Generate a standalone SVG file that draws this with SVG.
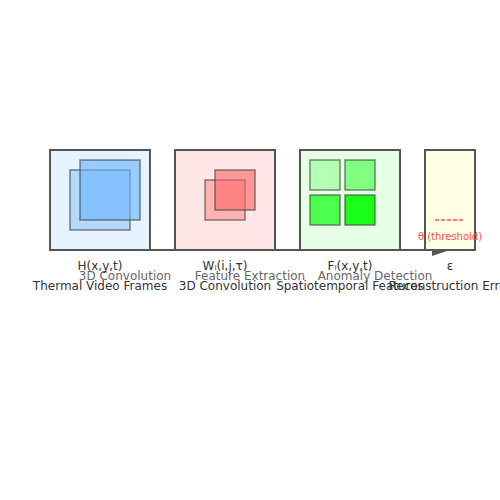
<svg xmlns="http://www.w3.org/2000/svg" width="500" height="500" viewBox="0 0 500 500">
<style>
.box{stroke:#555;stroke-width:2}
.inner{stroke:#333;stroke-opacity:0.6;stroke-width:1.5}
.lbl{font-family:"DejaVu Sans",sans-serif;font-size:12px;fill:#333;text-anchor:middle}
.elbl{font-family:"DejaVu Sans",sans-serif;font-size:12px;fill:#666;text-anchor:middle}
.conn{stroke:#555;stroke-width:2;fill:none}
</style>
<rect width="500" height="500" fill="#fff"/>
<g id="connectors">
<line class="conn" x1="150" y1="250" x2="175" y2="250"/>
<line class="conn" x1="275" y1="250" x2="300" y2="250"/>
<line class="conn" x1="400" y1="250" x2="425" y2="250"/>
<polygon points="432,250 450,250 432,256" fill="#555"/>
<text class="elbl" x="125" y="280">3D Convolution</text>
<text class="elbl" x="250" y="280">Feature Extraction</text>
<text class="elbl" x="375" y="280">Anomaly Detection</text>
</g>
<g id="thermal">
<rect class="box" x="50" y="150" width="100" height="100" fill="#e6f2ff"/>
<rect class="inner" x="70" y="170" width="60" height="60" fill="#b3d9ff"/>
<rect class="inner" x="80" y="160" width="60" height="60" fill="#66b3ff" fill-opacity="0.6"/>
<text class="lbl" x="100" y="270">H(x,y,t)</text>
<text class="lbl" x="100" y="290">Thermal Video Frames</text>
</g>
<g id="conv">
<rect class="box" x="175" y="150" width="100" height="100" fill="#ffe6e6"/>
<rect class="inner" x="205" y="180" width="40" height="40" fill="#ffb3b3"/>
<rect class="inner" x="215" y="170" width="40" height="40" fill="#ff6666" fill-opacity="0.6"/>
<text class="lbl" x="225" y="270">Wᵢ(i,j,τ)</text>
<text class="lbl" x="225" y="290">3D Convolution</text>
</g>
<g id="features">
<rect class="box" x="300" y="150" width="100" height="100" fill="#e6ffe6"/>
<rect class="inner" x="310" y="160" width="30" height="30" fill="#b3ffb3"/>
<rect class="inner" x="345" y="160" width="30" height="30" fill="#80ff80"/>
<rect class="inner" x="310" y="195" width="30" height="30" fill="#4dff4d"/>
<rect class="inner" x="345" y="195" width="30" height="30" fill="#1aff1a"/>
<text class="lbl" x="350" y="270">Fᵢ(x,y,t)</text>
<text class="lbl" x="350" y="290">Spatiotemporal Features</text>
</g>
<g id="error">
<rect class="box" x="425" y="150" width="50" height="100" fill="#ffffe6"/>
<line x1="435" y1="220" x2="465" y2="220" stroke="#ff4d4d" stroke-width="1.5" stroke-dasharray="4,2"/>
<text x="450" y="240" font-family="DejaVu Sans, sans-serif" font-size="10" fill="#ff4d4d" text-anchor="middle">θ (threshold)</text>
<text class="lbl" x="450" y="270">ε</text>
<text class="lbl" x="450" y="290">Reconstruction Error</text>
</g>
</svg>
